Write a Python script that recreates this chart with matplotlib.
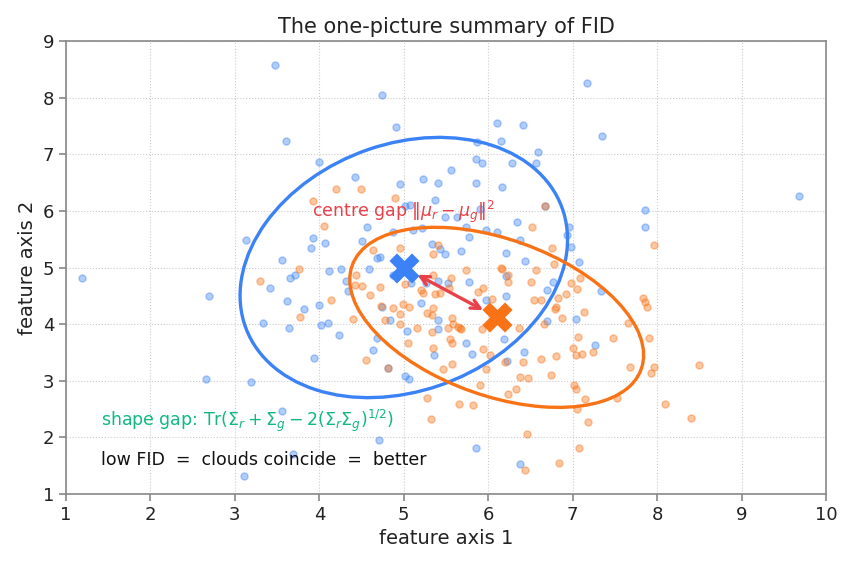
import numpy as np
import matplotlib
matplotlib.use("Agg")
import matplotlib.pyplot as plt
from matplotlib.patches import Ellipse

# real features (blue cloud)
real_x = [3.47, 4.74, 7.17, 4.91, 6.10, 6.41, 7.35, 3.60, 6.15, 5.87, 6.59, 4.00, 5.85, 5.93, 6.28,
          6.56, 5.56, 4.42, 5.23, 4.96, 5.40, 5.85, 6.16, 5.37, 9.68, 7.86, 7.86, 5.01, 5.63, 5.49,
          6.34, 5.90, 4.56, 4.87, 5.21, 5.74, 5.97, 6.10, 6.96, 6.93, 3.13, 3.93, 3.90, 4.07, 4.50,
          5.77, 6.38, 5.33, 5.43, 5.49, 5.68, 6.21, 6.43, 7.08, 3.56, 4.11, 4.26, 4.72, 4.59, 1.19,
          2.69, 3.42, 3.65, 3.71, 3.62, 4.32, 4.34, 5.26, 5.40, 5.77, 5.52, 6.21, 6.21, 6.77, 6.70,
          7.33, 5.97, 3.99, 3.82, 5.20, 4.74, 3.33, 3.64, 4.02, 4.10, 5.41, 5.40, 5.04, 6.70, 7.04,
          4.23, 4.68, 5.74, 6.19, 4.63, 5.36, 6.42, 7.26, 3.94, 6.22, 4.81, 5.01, 5.06, 2.66, 3.19,
          3.56, 4.71, 3.69, 3.11, 5.86, 6.38, 6.67, 4.87, 5.09, 5.07, 6.98, 5.81, 4.84, 4.68, 5.11]
real_y = [8.58, 8.05, 8.25, 7.49, 7.56, 7.51, 7.33, 7.24, 7.24, 7.22, 7.04, 6.87, 6.91, 6.84, 6.85,
          6.85, 6.73, 6.59, 6.56, 6.48, 6.50, 6.50, 6.43, 6.20, 6.27, 6.01, 5.71, 6.08, 5.90, 5.90,
          5.80, 6.04, 5.72, 5.63, 5.70, 5.71, 5.66, 5.63, 5.72, 5.58, 5.49, 5.52, 5.35, 5.43, 5.46,
          5.53, 5.48, 5.41, 5.32, 5.23, 5.29, 5.25, 5.12, 5.10, 5.14, 4.93, 4.97, 5.18, 4.97, 4.81,
          4.49, 4.64, 4.82, 4.87, 4.40, 4.77, 4.59, 4.73, 4.77, 4.75, 4.73, 4.85, 4.49, 4.75, 4.60,
          4.59, 4.43, 4.34, 4.26, 4.37, 4.30, 4.02, 3.93, 3.98, 4.02, 4.07, 3.91, 3.88, 4.06, 4.09,
          3.81, 3.75, 3.67, 3.73, 3.55, 3.45, 3.51, 3.63, 3.40, 3.35, 3.23, 3.08, 3.03, 3.03, 2.98,
          2.47, 1.96, 1.70, 1.32, 1.82, 1.53, 6.08, 4.87, 4.73, 6.10, 5.36, 3.47, 4.07, 5.16, 5.67]

# generated features (orange cloud)
gen_x = [4.20, 4.49, 3.92, 4.90, 4.05, 6.52, 7.96, 4.96, 4.64, 5.41, 5.35, 6.75, 3.76, 3.30, 4.14,
         3.77, 4.40, 4.43, 4.50, 4.60, 4.72, 4.73, 4.78, 4.87, 4.96, 5.01, 5.06, 4.99, 4.96, 5.16,
         5.05, 5.20, 5.27, 5.33, 5.34, 5.35, 5.37, 5.43, 5.23, 5.53, 5.56, 5.57, 5.58, 5.52, 5.64,
         5.68, 5.74, 5.88, 5.94, 6.04, 5.93, 6.16, 6.23, 6.23, 6.37, 6.56, 6.51, 6.54, 6.63, 6.66,
         6.79, 6.80, 6.83, 6.87, 6.92, 6.98, 7.05, 7.09, 7.13, 6.78, 6.67, 7.65, 7.83, 7.86, 7.88,
         7.90, 7.48, 7.06, 7.00, 7.04, 7.11, 7.24, 6.80, 6.62, 6.41, 6.20, 6.02, 5.94, 5.97, 5.57,
         5.46, 5.55, 5.57, 5.35, 5.33, 4.55, 4.81, 7.68, 7.96, 7.93, 8.50, 6.38, 6.47, 6.74, 7.02,
         7.04, 5.90, 6.33, 6.23, 5.27, 5.65, 5.82, 7.15, 7.53, 7.05, 8.09, 8.40, 5.32, 7.18, 6.46,
         7.08, 6.84, 6.43, 5.67, 6.15, 4.42]
gen_y = [6.38, 6.38, 6.17, 6.23, 5.74, 5.71, 5.40, 5.34, 5.31, 5.39, 5.23, 5.35, 4.98, 4.77, 4.42,
         4.13, 4.09, 4.87, 4.68, 4.52, 4.66, 4.32, 4.07, 4.28, 4.18, 4.70, 4.30, 4.35, 4.00, 3.94,
         3.67, 4.60, 4.19, 4.16, 4.29, 4.87, 4.54, 4.55, 4.55, 4.63, 4.81, 4.10, 4.00, 3.94, 3.95,
         3.92, 4.95, 4.57, 4.64, 4.45, 3.92, 4.97, 4.86, 4.75, 3.94, 4.95, 4.75, 4.43, 4.42, 4.00,
         4.26, 4.30, 4.46, 4.10, 4.53, 4.72, 4.62, 4.81, 4.21, 5.06, 6.08, 4.02, 4.46, 4.39, 4.30,
         3.75, 3.75, 3.77, 3.57, 3.45, 3.48, 3.50, 3.44, 3.38, 3.34, 3.33, 3.45, 3.56, 3.20, 3.29,
         3.20, 3.73, 3.66, 3.58, 3.86, 3.36, 3.22, 3.24, 3.24, 3.13, 3.27, 3.06, 3.05, 3.10, 2.93,
         2.86, 2.92, 2.85, 2.76, 2.70, 2.59, 2.57, 2.68, 2.69, 2.51, 2.59, 2.34, 2.32, 2.27, 2.06,
         1.81, 1.54, 1.42, 3.93, 4.99, 4.69]

# cloud statistics
mu_real = [5.0, 5.0]
mu_gen = [6.10, 4.12]
cov_real = [[0.94, 0.24], [0.24, 1.32]]
cov_gen = [[0.757, -0.29], [-0.29, 0.632]]
n_std = 2

blue = "#3b82f6"
orange = "#f97316"
red = "#e8414a"
green = "#10b981"


def cov_ellipse(mu, cov, color):
    vals, vecs = np.linalg.eigh(np.array(cov))
    order = vals.argsort()[::-1]
    vals, vecs = vals[order], vecs[:, order]
    angle = np.degrees(np.arctan2(vecs[1, 0], vecs[0, 0]))
    w, h = 2 * n_std * np.sqrt(vals)
    return Ellipse(mu, w, h, angle=angle, fill=False, edgecolor=color, linewidth=2.4, zorder=3)


fig = plt.figure(figsize=(8.52, 5.67), dpi=100)
ax = fig.add_axes([0.0775, 0.1287, 0.892, 0.799])

ax.scatter(real_x, real_y, s=26, color=blue, alpha=0.4, zorder=2)
ax.scatter(gen_x, gen_y, s=26, color=orange, alpha=0.4, zorder=2)

ax.add_patch(cov_ellipse(mu_real, cov_real, blue))
ax.add_patch(cov_ellipse(mu_gen, cov_gen, orange))

ax.scatter(*mu_real, marker="X", s=470, color=blue, zorder=5, linewidths=0)
ax.scatter(*mu_gen, marker="X", s=470, color=orange, zorder=5, linewidths=0)

ax.annotate("", xy=mu_real, xytext=mu_gen,
            arrowprops=dict(arrowstyle="<->", color=red, lw=2.4, mutation_scale=16,
                            shrinkA=11, shrinkB=11), zorder=4)

ax.text(5.0, 5.98, r"centre gap $\|\mu_r-\mu_g\|^2$", color=red, fontsize=12.5,
        ha="center", va="center", zorder=6)
ax.text(1.41, 2.30, r"shape gap: $\mathrm{Tr}(\Sigma_r+\Sigma_g-2(\Sigma_r\Sigma_g)^{1/2})$",
        color=green, fontsize=12.5, ha="left", va="center", zorder=6)
ax.text(1.41, 1.60, "low FID  =  clouds coincide  =  better", color="#111111",
        fontsize=12.5, ha="left", va="center", zorder=6)

ax.set_xlim(1, 10)
ax.set_ylim(1, 9)
ax.set_xticks(range(1, 11))
ax.set_yticks(range(1, 10))
ax.grid(True, linestyle=":", color="#cccccc", linewidth=0.8, zorder=0)
ax.set_axisbelow(True)
for sp in ax.spines.values():
    sp.set_color("#888888")
    sp.set_linewidth(1.2)
ax.tick_params(colors="#888888", labelcolor="#222222", labelsize=13, length=5, width=1.2)

ax.set_xlabel("feature axis 1", fontsize=14, color="#222222")
ax.set_ylabel("feature axis 2", fontsize=14, color="#222222")
ax.set_title("The one-picture summary of FID", fontsize=15, color="#222222", pad=6)

fig.savefig("out.png", dpi=100)
